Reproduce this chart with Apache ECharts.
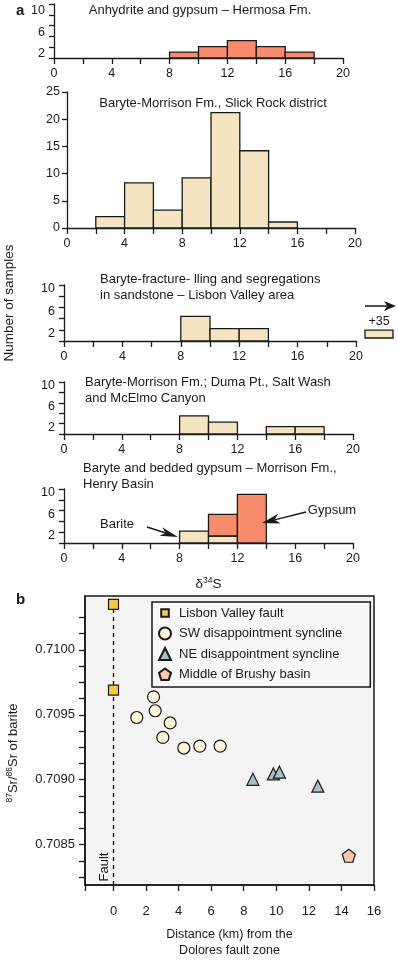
<!DOCTYPE html>
<html><head><meta charset="utf-8">
<script src="https://cdn.jsdelivr.net/npm/echarts@6/dist/echarts.min.js"></script>
<style>html,body{margin:0;padding:0;background:#fff}#c{width:398px;height:960px}</style>
</head><body><div id="c"></div>
<script>
// ---------------- data ----------------
var binWidth = 2;
var hermosaStarts = [8, 10, 12, 14, 16];
var hermosaCounts = [1.1, 2.1, 3.2, 2.1, 1.1];
var slickStarts = [2, 4, 6, 8, 10, 12, 14];
var slickCounts = [2.1, 8.3, 3.3, 9.2, 21.2, 14.2, 1.1];
var lisbonStarts = [8, 10, 12];
var lisbonCounts = [4.4, 2.2, 2.2];
var lisbonOutlierCenter = [35];
var lisbonOutlierCounts = [1.4];
var dumaStarts = [8, 10, 14, 16];
var dumaCounts = [3.5, 2.3, 1.4, 1.4];
var henryBariteStarts = [8, 10];
var henryBariteCounts = [2.2, 1.3];
var henryGypsumStarts = [10, 12];
var henryGypsumCounts = [4.0, 9.0];

var d34TickLabels = [0, 4, 8, 12, 16, 20];
var countTickLabelsSmall = [2, 6, 10];

var lvfX = [0, 0];
var lvfY = [0.71035, 0.70969];
var swX = [1.43, 2.46, 2.56, 3.03, 3.48, 4.32, 5.30, 6.55];
var swY = [0.709479, 0.709638, 0.709531, 0.709326, 0.709437, 0.709244, 0.709259, 0.709259];
var neX = [8.56, 9.82, 10.19, 12.55];
var neY = [0.709003, 0.709045, 0.709058, 0.708951];
var brushyX = [14.45];
var brushyY = [0.708415];

var distLabels = [0, 2, 4, 6, 8, 10, 12, 14, 16];
var distTicks = [-1.75, 0, 2, 4, 6, 8, 10, 12, 14, 16];
var srLabels = [0.7085, 0.7090, 0.7095, 0.7100];
var srTicks = [0.70825, 0.708375, 0.7085, 0.708625, 0.70875, 0.708875, 0.709, 0.709125, 0.70925,
               0.709375, 0.7095, 0.709625, 0.70975, 0.709875, 0.71, 0.710125, 0.71025];

// ---------------- style ----------------
var ink = '#1a1a1a';
var ff = '"Liberation Sans", Arial, Helvetica, sans-serif';
var fs = 12.5;
var tfs = 13;
var beige = '#f4e4c1';
var salmon = '#f98b6d';

function bins(starts, counts, bases) {
  return starts.map(function (s, i) {
    var b = bases ? bases[i] : 0;
    return [s, s + binWidth, b, b + counts[i]];
  });
}
function rectRender(color) {
  return function (params, api) {
    var a = api.coord([api.value(0), api.value(2)]);
    var b = api.coord([api.value(1), api.value(3)]);
    return {
      type: 'rect',
      shape: { x: Math.min(a[0], b[0]), y: Math.min(a[1], b[1]), width: Math.abs(b[0] - a[0]), height: Math.abs(b[1] - a[1]) },
      style: { fill: color, stroke: ink, lineWidth: 1.3 }
    };
  };
}
function histSeries(gi, data, color) {
  return { type: 'custom', xAxisIndex: gi, yAxisIndex: gi, renderItem: rectRender(color), data: data, encode: { x: [0, 1], y: [2, 3] }, clip: false, silent: true, z: 3 };
}
function histX(gi, extra) {
  var o = {
    type: 'value', gridIndex: gi, min: 0, max: 20, interval: 2,
    axisLine: { show: true, onZero: false, lineStyle: { color: ink, width: 1.3 } },
    axisTick: { show: true, length: 6, lineStyle: { color: ink, width: 1.3 } },
    axisLabel: { customValues: d34TickLabels, fontSize: fs, color: ink, fontFamily: ff, margin: 9 },
    splitLine: { show: false }
  };
  if (extra) for (var k in extra) o[k] = extra[k];
  return o;
}
function histY(gi, lh) {
  return {
    type: 'value', gridIndex: gi, min: 0, max: 10, interval: 2,
    axisLine: { show: true, onZero: false, lineStyle: { color: ink, width: 1.3 } },
    axisTick: { show: true, length: 5, lineStyle: { color: ink, width: 1.3 } },
    axisLabel: { customValues: countTickLabelsSmall, fontSize: fs, color: ink, fontFamily: ff, margin: 9, verticalAlign: 'top', lineHeight: lh },
    splitLine: { show: false }
  };
}

var gypsumBases = henryGypsumStarts.map(function (s) {
  var i = henryBariteStarts.indexOf(s);
  return i >= 0 ? henryBariteCounts[i] : 0;
});

var pentagon = 'path://M50,0 L97.6,34.5 L79.4,90.5 L20.6,90.5 L2.4,34.5 Z';
var smallSquareIcon = 'path://M0,0 M12,12 M2.2,2.2 L9.8,2.2 L9.8,9.8 L2.2,9.8 Z';

function arrow(x1, y1, x2, y2, hl, hw) {
  var dx = x2 - x1, dy = y2 - y1, L = Math.sqrt(dx * dx + dy * dy), ux = dx / L, uy = dy / L, px = -uy, py = ux;
  var bx = x2 - ux * hl, by = y2 - uy * hl;
  var nx = x2 - ux * hl * 0.72, ny = y2 - uy * hl * 0.72;
  return [
    { type: 'line', shape: { x1: x1, y1: y1, x2: nx, y2: ny }, style: { stroke: ink, lineWidth: 1.5 }, z: 10 },
    { type: 'polygon', shape: { points: [[x2, y2], [bx + px * hw / 2, by + py * hw / 2], [nx, ny], [bx - px * hw / 2, by - py * hw / 2]] }, style: { fill: ink }, z: 10 }
  ];
}
function txt(x, y, s, opts) {
  opts = opts || {};
  var st = { text: s, x: 0, y: 0, fill: ink, font: opts.font || (tfs + 'px ' + ff), textAlign: opts.align || 'left', textVerticalAlign: opts.va || 'middle' };
  if (opts.lineHeight) st.lineHeight = opts.lineHeight;
  if (opts.rich) st.rich = opts.rich;
  return { type: 'text', x: x, y: y, rotation: opts.rot || 0, style: st, z: 10 };
}

var supRich = {
  b: { fontSize: 13, fontFamily: ff, fill: ink, lineHeight: 16 },
  sup: { fontSize: 8.5, fontFamily: ff, fill: ink, verticalAlign: 'top', lineHeight: 16, padding: [0, 0, 6, 0] }
};

var graphics = [
  txt(16, 11, 'a', { font: 'bold 15px ' + ff }),
  txt(200, 10, 'Anhydrite and gypsum – Hermosa Fm.', { align: 'center' }),
  txt(213, 103, 'Baryte-Morrison Fm., Slick Rock district', { align: 'center' }),
  txt(100, 271, 'Baryte-fracture- lling and segregations\nin sandstone – Lisbon Valley area', { va: 'top', lineHeight: 16 }),
  txt(85, 375, 'Baryte-Morrison Fm.; Duma Pt., Salt Wash\nand McElmo Canyon', { va: 'top', lineHeight: 15.5 }),
  txt(83, 461, 'Baryte and bedded gypsum – Morrison Fm.,\nHenry Basin', { va: 'top', lineHeight: 15.5 }),
  txt(9, 303, 'Number of samples', { align: 'center', rot: Math.PI / 2, font: '13.5px ' + ff }),
  txt(117, 524, 'Barite', { align: 'center' }),
  txt(332, 510, 'Gypsum', { align: 'center' }),
  txt(379, 322, '+35', { align: 'center', font: '12.5px ' + ff }),
  txt(16, 600, 'b', { font: 'bold 15px ' + ff }),
  txt(104, 867, 'Fault', { align: 'center', rot: Math.PI / 2 }),
  txt(13, 753, '{sup|87}{b|Sr/}{sup|86}{b|Sr of barite}', { align: 'center', rot: Math.PI / 2, rich: supRich })
].concat(arrow(147, 527, 178, 537, 18, 9))
 .concat(arrow(306, 512, 262, 523, 18, 10))
 .concat(arrow(365, 306, 396, 306, 12, 10));

var option = {
  animation: false,
  backgroundColor: '#fff',
  textStyle: { fontFamily: ff },
  grid: [
    { left: 54, top: 4, width: 289, height: 54 },
    { left: 67, top: 92, width: 288, height: 136 },
    { left: 64, top: 285, width: 292, height: 56 },
    { left: 365, top: 282, width: 28, height: 56 },
    { left: 64, top: 382, width: 289, height: 52 },
    { left: 64, top: 489, width: 289, height: 54 },
    { left: 85, top: 596, width: 289, height: 299, show: true, backgroundColor: '#f4f4f4', borderColor: ink, borderWidth: 1.5 }
  ],
  xAxis: [
    histX(0),
    histX(1),
    histX(2),
    { type: 'value', gridIndex: 3, min: 34, max: 36, show: false },
    histX(4),
    histX(5, { name: '{d|δ}{sup|34}{d|S}', nameLocation: 'middle', nameGap: 33,
      nameTextStyle: { rich: { d: { fontSize: 13.5, fontFamily: ff, color: ink, lineHeight: 16 }, sup: { fontSize: 8.5, fontFamily: ff, color: ink, verticalAlign: 'top', lineHeight: 16, padding: [0, 0, 6, 0] } } } }),
    {
      type: 'value', gridIndex: 6, min: -1.75, max: 16,
      axisLine: { show: true, onZero: false, lineStyle: { color: ink, width: 1.5 } },
      axisTick: { show: true, length: 6, customValues: distTicks, lineStyle: { color: ink, width: 1.3 } },
      axisLabel: { customValues: distLabels, fontSize: 13, color: ink, fontFamily: ff, margin: 20 },
      splitLine: { show: false },
      name: 'Distance (km) from the\nDolores fault zone', nameLocation: 'middle', nameGap: 42,
      nameTextStyle: { fontSize: 12.5, color: ink, fontFamily: ff, lineHeight: 16 }
    }
  ],
  yAxis: [
    histY(0, 13),
    {
      type: 'value', gridIndex: 1, min: 0, max: 25, interval: 5,
      axisLine: { show: true, onZero: false, lineStyle: { color: ink, width: 1.3 } },
      axisTick: { show: true, length: 5, lineStyle: { color: ink, width: 1.3 } },
      axisLabel: { fontSize: fs, color: ink, fontFamily: ff, margin: 7 },
      splitLine: { show: false }
    },
    histY(2, 8),
    { type: 'value', gridIndex: 3, min: 0, max: 10, show: false },
    histY(4, 7),
    histY(5, 7),
    {
      type: 'value', gridIndex: 6, min: 0.70819, max: 0.710414,
      axisLine: { show: true, onZero: false, lineStyle: { color: ink, width: 1.5 } },
      axisTick: { show: true, length: 6, customValues: srTicks, lineStyle: { color: ink, width: 1.3 } },
      axisLabel: { customValues: srLabels, fontSize: 13, color: ink, fontFamily: ff, margin: 10, formatter: function (v) { return v.toFixed(4); } },
      splitLine: { show: false }
    }
  ],
  legend: {
    orient: 'vertical', left: 152, top: 602,
    itemWidth: 12, itemHeight: 12, itemGap: 6.5,
    padding: [4, 28, 6, 6],
    backgroundColor: '#f8f8f8', borderColor: ink, borderWidth: 1.5,
    textStyle: { fontSize: 13, color: ink, fontFamily: ff, lineHeight: 12, padding: [0, 0, 0, 3] },
    data: [
      { name: 'Lisbon Valley fault', icon: smallSquareIcon },
      { name: 'SW disappointment syncline' },
      { name: 'NE disappointment syncline' },
      { name: 'Middle of Brushy basin' }
    ]
  },
  series: [
    histSeries(0, bins(hermosaStarts, hermosaCounts), salmon),
    histSeries(1, bins(slickStarts, slickCounts), beige),
    histSeries(2, bins(lisbonStarts, lisbonCounts), beige),
    histSeries(3, lisbonOutlierCenter.map(function (c, i) { return [c - binWidth / 2, c + binWidth / 2, 0, lisbonOutlierCounts[i]]; }), beige),
    histSeries(4, bins(dumaStarts, dumaCounts), beige),
    histSeries(5, bins(henryBariteStarts, henryBariteCounts), beige),
    histSeries(5, bins(henryGypsumStarts, henryGypsumCounts, gypsumBases), salmon),
    {
      name: 'Lisbon Valley fault', type: 'scatter', xAxisIndex: 6, yAxisIndex: 6,
      symbol: 'rect', symbolSize: 10, z: 5,
      itemStyle: { color: '#f6c93e', borderColor: ink, borderWidth: 1.2, opacity: 1 },
      data: lvfX.map(function (x, i) { return [x, lvfY[i]]; }),
      markLine: { silent: true, symbol: ['none', 'none'], label: { show: false }, z: 2,
        lineStyle: { type: [4, 4], color: ink, width: 1.4 }, data: [{ xAxis: 0 }] }
    },
    {
      name: 'SW disappointment syncline', type: 'scatter', xAxisIndex: 6, yAxisIndex: 6,
      symbol: 'circle', symbolSize: 12, z: 5,
      itemStyle: { color: '#fdf6d9', borderColor: ink, borderWidth: 1.2, opacity: 1 },
      data: swX.map(function (x, i) { return [x, swY[i]]; })
    },
    {
      name: 'NE disappointment syncline', type: 'scatter', xAxisIndex: 6, yAxisIndex: 6,
      symbol: 'triangle', symbolSize: 12, z: 5,
      itemStyle: { color: '#a9c1c3', borderColor: ink, borderWidth: 1.2, opacity: 1 },
      data: neX.map(function (x, i) { return [x, neY[i]]; })
    },
    {
      name: 'Middle of Brushy basin', type: 'scatter', xAxisIndex: 6, yAxisIndex: 6,
      symbol: pentagon, symbolSize: 13, z: 5,
      itemStyle: { color: '#f9c6ab', borderColor: ink, borderWidth: 1.2, opacity: 1 },
      data: brushyX.map(function (x, i) { return [x, brushyY[i]]; })
    }
  ],
  graphic: graphics
};
var chart = echarts.init(document.getElementById('c'), null, { renderer: 'canvas' });
chart.setOption(option);
</script>
</body></html>
